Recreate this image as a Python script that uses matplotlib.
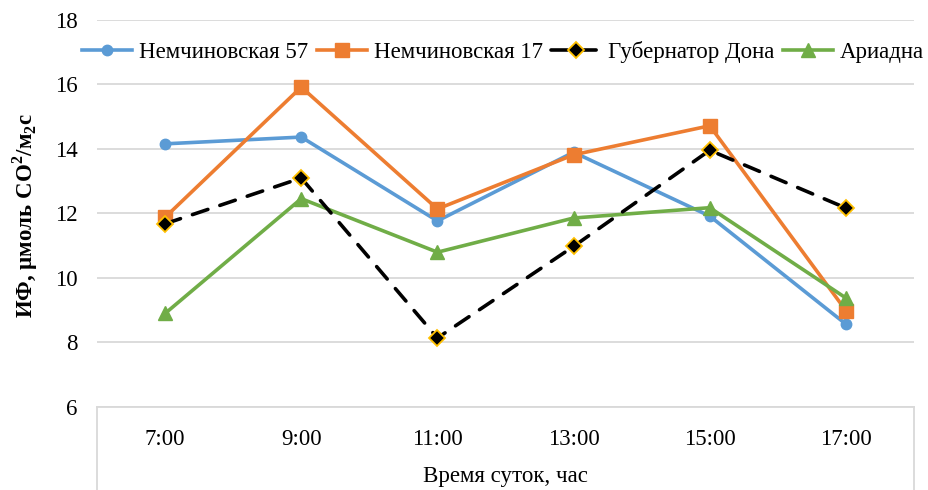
import matplotlib
matplotlib.use("Agg")
import matplotlib.pyplot as plt
from matplotlib.lines import Line2D

plt.rcParams['font.family'] = ['Liberation Serif', 'DejaVu Serif']
plt.rcParams['mathtext.fontset'] = 'custom'
plt.rcParams['mathtext.rm'] = 'Liberation Serif'
plt.rcParams['mathtext.bf'] = 'Liberation Serif:bold'

categories = ["7:00", "9:00", "11:00", "13:00", "15:00", "17:00"]
nem57 = [14.16, 14.37, 11.77, 13.9, 11.92, 8.57]
nem17 = [11.88, 15.92, 12.14, 13.82, 14.72, 8.99]
gubernator = [11.68, 13.1, 8.14, 10.98, 13.96, 12.17]
ariadna = [8.9, 12.46, 10.8, 11.86, 12.18, 9.38]
series_names = ["Немчиновская 57", "Немчиновская 17", "Губернатор Дона", "Ариадна"]
y_ticks = [6, 8, 10, 12, 14, 16, 18]

W, H = 929, 490
fig = plt.figure(figsize=(W / 100, H / 100), dpi=100)
left, right, top, bottom = 97, 914, 20, 407
ax = fig.add_axes([left / W, 1 - bottom / H, (right - left) / W, (bottom - top) / H])

FS = 16.5
x = list(range(len(categories)))
lw = 2.6
ax.plot(x, nem57, color='#5B9BD5', lw=lw, marker='o', ms=7.5, label=series_names[0], zorder=3)
ax.plot(x, nem17, color='#ED7D31', lw=lw, marker='s', ms=10, label=series_names[1], zorder=3)
ax.plot(x, gubernator, color='black', lw=lw, ls=(0, (4.5, 3.5)), dash_capstyle='round',
        marker='D', ms=8, mfc='black', mec='#FFC000', mew=1.3, label=series_names[2], zorder=4)
ax.plot(x, ariadna, color='#70AD47', lw=lw, marker='^', ms=10, label=series_names[3], zorder=3)

ax.set_xlim(-0.5, len(categories) - 0.5)
ax.set_ylim(6, 18)
ax.set_yticks(y_ticks)
ax.set_xticks(x)
ax.set_xticklabels(categories)
ax.tick_params(axis='both', length=0, labelsize=FS, colors='black')
ax.tick_params(axis='x', pad=16)
ax.tick_params(axis='y', pad=14)
ax.grid(axis='y', color='#D9D9D9', lw=1.3)
ax.set_axisbelow(True)
for s in ['left', 'right', 'top']:
    ax.spines[s].set_visible(False)
ax.spines['bottom'].set_color('#D9D9D9')
ax.spines['bottom'].set_linewidth(1.3)

# category box below the axis
for xp in (left, right):
    fig.add_artist(Line2D([xp / W, xp / W], [0, 1 - bottom / H], color='#D9D9D9', lw=1.3))

fig.text(505 / W, 1 - 476 / H, "Время суток, час", ha='center', va='center', fontsize=FS)
fig.text(25 / W, 1 - 215 / H, r'ИФ, μмоль CO$^{\mathbf{2}}$/м$_{\mathbf{2}}$с',
         rotation=90, ha='center', va='center', fontsize=FS, fontweight='bold')

leg = ax.legend(loc='center', bbox_to_anchor=((503 - left) / (right - left), 1 - (52 - top) / (bottom - top)),
                ncol=4, frameon=False, fontsize=FS, handlelength=2.2,
                columnspacing=0.35, handletextpad=0.3, borderaxespad=0, borderpad=0)

fig.savefig('out.png', dpi=100, facecolor='white')
